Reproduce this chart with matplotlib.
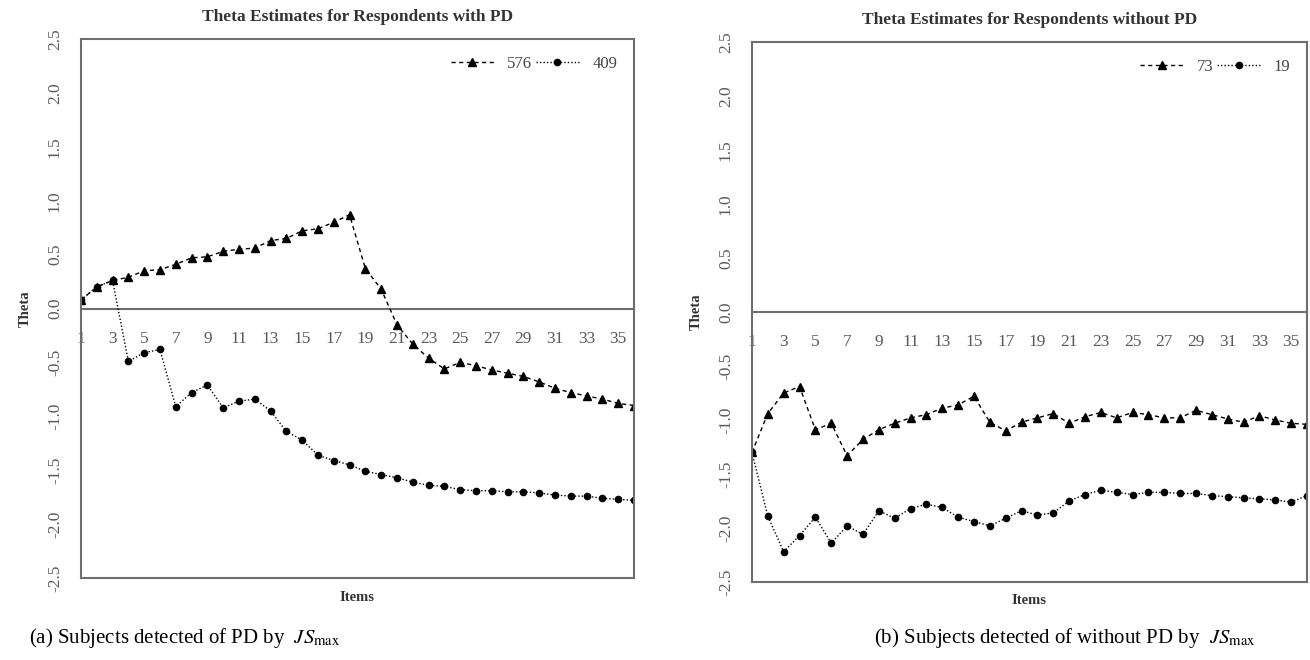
"""
Theta estimates across items for two pairs of respondents
(left: detected with PD, right: detected without PD).
"""
import matplotlib
matplotlib.use("Agg")
import matplotlib.pyplot as plt
import numpy as np

plt.rcParams["font.family"] = ["Liberation Serif", "DejaVu Serif"]
plt.rcParams["mathtext.fontset"] = "stix"

# --- data --------------------------------------------------------------------
items = np.arange(1, 37)
odd_items = np.arange(1, 36, 2)
y_ticks = [-2.5, -2.0, -1.5, -1.0, -0.5, 0.0, 0.5, 1.0, 1.5, 2.0, 2.5]

# panel (a): respondents with PD
pd_labels = ["576", "409"]
theta_576 = [0.08, 0.20, 0.26, 0.29, 0.35, 0.36, 0.41, 0.47, 0.48, 0.53,
             0.55, 0.56, 0.63, 0.65, 0.72, 0.74, 0.80, 0.87, 0.37, 0.18,
             -0.15, -0.33, -0.46, -0.56, -0.50, -0.53, -0.57, -0.60, -0.63,
             -0.68, -0.74, -0.78, -0.81, -0.84, -0.88, -0.90]
theta_409 = [0.08, 0.20, 0.26, -0.49, -0.41, -0.38, -0.91, -0.78, -0.71,
             -0.92, -0.86, -0.84, -0.95, -1.14, -1.22, -1.36, -1.41, -1.45,
             -1.51, -1.54, -1.57, -1.61, -1.64, -1.65, -1.68, -1.69, -1.69,
             -1.70, -1.70, -1.71, -1.73, -1.74, -1.74, -1.76, -1.77, -1.78]

# panel (b): respondents without PD
nopd_labels = ["73", "19"]
theta_73 = [-1.30, -0.94, -0.75, -0.69, -1.09, -1.03, -1.33, -1.18, -1.09,
            -1.03, -0.98, -0.95, -0.89, -0.86, -0.78, -1.02, -1.10, -1.02,
            -0.98, -0.94, -1.03, -0.97, -0.93, -0.98, -0.93, -0.95, -0.98,
            -0.98, -0.91, -0.95, -0.99, -1.02, -0.96, -1.00, -1.03, -1.04]
theta_19 = [-1.30, -1.89, -2.22, -2.07, -1.90, -2.14, -1.98, -2.06, -1.84,
            -1.91, -1.82, -1.78, -1.81, -1.90, -1.94, -1.98, -1.91, -1.84,
            -1.88, -1.86, -1.75, -1.69, -1.65, -1.67, -1.69, -1.67, -1.67,
            -1.68, -1.68, -1.70, -1.71, -1.72, -1.73, -1.74, -1.76, -1.70]

GREY = "#6e6e6e"
TICK_GREY = "#5a5a5a"


def draw_panel(ax, title, tri, dots, labels):
    ax.plot(items, tri, color="black", lw=1.0, ls=(0, (3, 2.5)),
            marker="^", ms=6, label=labels[0])
    ax.plot(items, dots, color="black", lw=1.0, ls=(0, (1, 1.5)),
            marker="o", ms=4.5, label=labels[1])

    ax.set_xlim(1, 36)
    ax.set_ylim(-2.5, 2.5)
    for s in ax.spines.values():
        s.set_color(GREY)
        s.set_linewidth(1.5)

    # item axis drawn along theta = 0, inside the box
    sec = ax.secondary_xaxis(0, transform=ax.transData)
    sec.set_xticks(odd_items)
    sec.spines["bottom"].set_color(GREY)
    sec.spines["bottom"].set_linewidth(1.5)
    sec.tick_params(length=0, pad=16, labelsize=12.5, labelcolor=TICK_GREY)

    ax.set_xticks([])
    ax.set_yticks(y_ticks)
    ax.set_yticklabels([f"{v:.1f}" for v in y_ticks], rotation=90,
                       va="center")
    ax.tick_params(axis="y", length=0, pad=13, labelsize=12.5,
                   labelcolor=TICK_GREY)

    ax.set_title(title, fontsize=12.5, fontweight="bold", color="#333333",
                 pad=13)
    ax.set_xlabel("Items", fontsize=10.5, fontweight="bold", color="#333333",
                  labelpad=9)
    ax.set_ylabel("Theta", fontsize=10.5, fontweight="bold", color="#333333",
                  labelpad=11)
    ax.legend(loc="upper right", ncol=2, frameon=False, fontsize=12,
              handlelength=2.6, handletextpad=0.8, columnspacing=0.2,
              borderaxespad=0.6, labelcolor="#444444")


fig = plt.figure(figsize=(13.1, 6.6), dpi=100)
ax_a = fig.add_axes([0.0618, 0.1242, 0.4221, 0.8167])
ax_b = fig.add_axes([0.5740, 0.1182, 0.4237, 0.8180])

draw_panel(ax_a, "Theta Estimates for Respondents with PD",
           theta_576, theta_409, pd_labels)
draw_panel(ax_b, "Theta Estimates for Respondents without PD",
           theta_73, theta_19, nopd_labels)

fig.text(0.141, 1 - 638 / 660, r"(a) Subjects detected of PD by  $JS_{\max}$",
         ha="center", va="center", fontsize=15)
fig.text(0.813, 1 - 638 / 660,
         r"(b) Subjects detected of without PD by  $JS_{\max}$",
         ha="center", va="center", fontsize=15)

fig.savefig("out.png", dpi=100)
